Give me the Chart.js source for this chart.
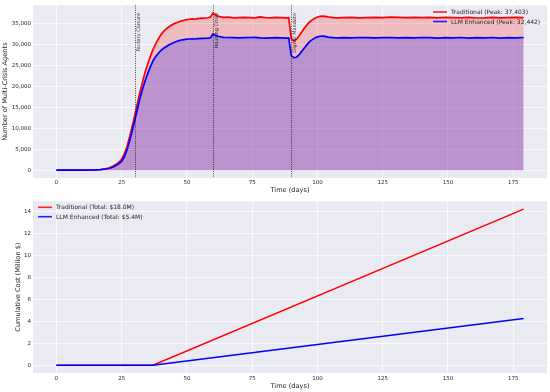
<!DOCTYPE html>
<html><head><meta charset="utf-8">
<script src="https://cdn.jsdelivr.net/npm/chart.js@4.4.1/dist/chart.umd.min.js"></script>
<style>html,body{margin:0;padding:0;background:#fff;}canvas{display:block;}</style>
</head><body>
<canvas id="c1" width="550" height="196"></canvas>
<canvas id="c2" width="550" height="196"></canvas>
<script>
// ---- data ----
const days = [0,5,10,15,17,19,20,21,22,23,24,25,26,27,28,29,30,31,32,33,34,35,36,37,38,39,40,41,42,43,44,45,46,47,48,49,50,51,52,53,54,56,58,59,60,61,62,63,64,66,68,70,72,74,76,78,80,82,84,86,88,89,90,91,92,93,94,95,96,97,98,99,100,101,102,103,104,106,108,110,113,116,119,122,125,128,131,134,137,140,143,146,149,152,155,158,161,164,167,170,173,176,179];
const traditional = [0,0,10,60,150,350,
500,750,1050,1450,1950,2600,3800,5500,7800,10300,13000,15800,18500,21000,23300,25300,27100,28700,30000,31200,32200,33000,33600,34100,34500,34850,35100,35350,35550,35700,35850,
35950,36050,35950,36100,36200,36300,36450,
37403,36950,36700,36500,36400,
36450,36300,36350,36400,36350,36300,36500,36350,36300,36400,36350,36300,
36350,
31300,30800,31200,32000,32900,33800,34600,35300,35800,36200,36500,36650,36700,36650,36500,
36350,36300,
36350,36400,36300,36350,36400,36350,36450,36400,36350,36400,36350,36400,36300,36400,36350,36300,36400,36250,36300,36400,36300,36350,36400,36350];
const llmEnhanced = [0,0,10,50,120,280,
400,580,820,1150,1550,2100,3100,4700,6800,9200,11800,14400,17000,19300,21300,23000,24600,26000,27000,27800,28500,29000,29400,29800,30100,30400,30650,30850,31000,31100,31200,
31250,31300,31250,31350,31400,31450,31500,
32442,32100,31900,31750,31650,
31600,31550,31500,31550,31600,31650,31500,31450,31500,31550,31500,31450,
31500,
27300,26800,26900,27500,28300,29100,29900,30600,31100,31500,31750,31900,31950,31850,31700,
31550,31500,
31550,31500,31600,31550,31500,31550,31600,31500,31550,31500,31600,31550,31450,31550,31500,31600,31450,31550,31500,31600,31450,31550,31500,31600];
const xTicks = [0,25,50,75,100,125,150,175];
const agentTicks = [0,5000,10000,15000,20000,25000,30000,35000];
const eventDays = [30,60,90];
const eventLabels = ['Factory Closure','Housing Crisis','Digital Mandate'];
const agentLegend = ['Traditional (Peak: 37,403)','LLM Enhanced (Peak: 32,442)'];

const costDays = [0,37,179];
const traditionalCost = [0,0,14.24];
const llmCost = [0,0,4.26];
const costTicks = [0,2,4,6,8,10,12,14];
const costLegend = ['Traditional (Total: $18.0M)','LLM Enhanced (Total: $5.4M)'];

// ---- helpers ----
const FONT = 'DejaVu Sans';
const TXT = '#262626';
const RED = '#ff0000', BLUE = '#0000ff';
const pts = (xs, ys) => xs.map((x, i) => ({x, y: ys[i]}));

const bgPlugin = {
  id: 'bg',
  beforeDraw(chart) {
    const {ctx, chartArea: a} = chart;
    ctx.save();
    ctx.fillStyle = '#eaeaf2';
    ctx.fillRect(a.left, a.top, a.right - a.left, a.bottom - a.top);
    ctx.restore();
  }
};

function legendPlugin(labels, x0, y0, dy) {
  return {
    id: 'customLegend',
    afterDraw(chart) {
      const ctx = chart.ctx;
      ctx.save();
      ctx.font = '6px "' + FONT + '"';
      ctx.textBaseline = 'middle';
      ctx.fillStyle = TXT;
      [RED, BLUE].forEach((c, i) => {
        const y = y0 + i * dy;
        ctx.strokeStyle = c;
        ctx.globalAlpha = 0.85;
        ctx.lineWidth = 1.6;
        ctx.beginPath(); ctx.moveTo(x0, y); ctx.lineTo(x0 + 14, y); ctx.stroke();
        ctx.globalAlpha = 1;
        ctx.fillText(labels[i], x0 + 18, y + 0.5);
      });
      ctx.restore();
    }
  };
}

const eventPlugin = {
  id: 'events',
  afterDatasetsDraw(chart) {
    const {ctx, chartArea: a, scales: {x}} = chart;
    ctx.save();
    eventDays.forEach((d, i) => {
      const px = Math.round(x.getPixelForValue(d)) + 0.5;
      ctx.strokeStyle = 'rgba(0,0,0,0.7)';
      ctx.lineWidth = 1;
      ctx.setLineDash([1, 1.3]);
      ctx.beginPath(); ctx.moveTo(px, a.top); ctx.lineTo(px, a.bottom); ctx.stroke();
      ctx.setLineDash([]);
      ctx.save();
      ctx.translate(px + 3, 13);
      ctx.rotate(-Math.PI / 2);
      ctx.font = '5px "' + FONT + '"';
      ctx.fillStyle = 'rgba(0,0,0,0.8)';
      ctx.textAlign = 'right';
      ctx.textBaseline = 'middle';
      ctx.fillText(eventLabels[i], 0, 0);
      ctx.restore();
    });
    ctx.restore();
  }
};

function xScale(h, tickPad) {
  return {
    type: 'linear', min: -8.95, max: 187.95,
    afterBuildTicks: s => { s.ticks = xTicks.map(v => ({value: v})); },
    afterFit: s => { s.height = h; },
    grid: {color: '#ffffff', lineWidth: 0.7, drawTicks: false},
    border: {display: false},
    ticks: {padding: tickPad, autoSkip: false, maxRotation: 0, color: TXT, font: {family: FONT, size: 5.5}},
    title: {display: true, text: 'Time (days)', color: TXT, font: {family: FONT, size: 6.6}, padding: {top: 0, bottom: 2}}
  };
}
function yScale(min, max, ticks, fmt, title, titlePad) {
  return {
    type: 'linear', min, max,
    afterBuildTicks: s => { s.ticks = ticks.map(v => ({value: v})); },
    afterFit: s => { s.width = 33; },
    grid: {color: '#ffffff', lineWidth: 0.7, drawTicks: false},
    border: {display: false},
    ticks: {padding: 2, autoSkip: false, color: TXT, font: {family: FONT, size: 5.5}, callback: fmt},
    title: {display: true, text: title, color: TXT, font: {family: FONT, size: 6.6}, padding: {top: titlePad, bottom: 0}}
  };
}

const common = {
  responsive: false, animation: false, devicePixelRatio: 1,
  plugins: {legend: {display: false}, tooltip: {enabled: false}},
  elements: {point: {radius: 0}, line: {tension: 0}}
};

new Chart(document.getElementById('c1'), {
  type: 'line',
  data: {datasets: [
    {label: 'LLM Enhanced', data: pts(days, llmEnhanced), borderColor: BLUE, borderWidth: 1.7, fill: 'origin', backgroundColor: 'rgba(0,0,255,0.22)'},
    {label: 'Traditional', data: pts(days, traditional), borderColor: RED, borderWidth: 1.7, fill: 'origin', backgroundColor: 'rgba(255,0,0,0.2)'}
  ]},
  options: Object.assign({}, common, {
    layout: {padding: {top: 4, right: 3, left: 0, bottom: 0}},
    scales: {
      x: xScale(18, 1.5),
      y: yScale(-1870.15, 39273.15, agentTicks, v => v.toLocaleString('en-US'), 'Number of Multi-Crisis Agents', 1)
    }
  }),
  plugins: [bgPlugin, eventPlugin, legendPlugin(agentLegend, 433, 12, 9.5)]
});

new Chart(document.getElementById('c2'), {
  type: 'line',
  data: {datasets: [
    {label: 'LLM Enhanced', data: pts(costDays, llmCost), borderColor: BLUE, borderWidth: 1.5, fill: false},
    {label: 'Traditional', data: pts(costDays, traditionalCost), borderColor: RED, borderWidth: 1.5, fill: false}
  ]},
  options: Object.assign({}, common, {
    layout: {padding: {top: 4, right: 3, left: 0, bottom: 0}},
    scales: {
      x: xScale(19, 2),
      y: yScale(-0.712, 14.95, costTicks, v => String(v), 'Cumulative Cost (Million $)', 14)
    }
  }),
  plugins: [bgPlugin, legendPlugin(costLegend, 38, 11.3, 9.4)]
});
</script>
</body></html>
